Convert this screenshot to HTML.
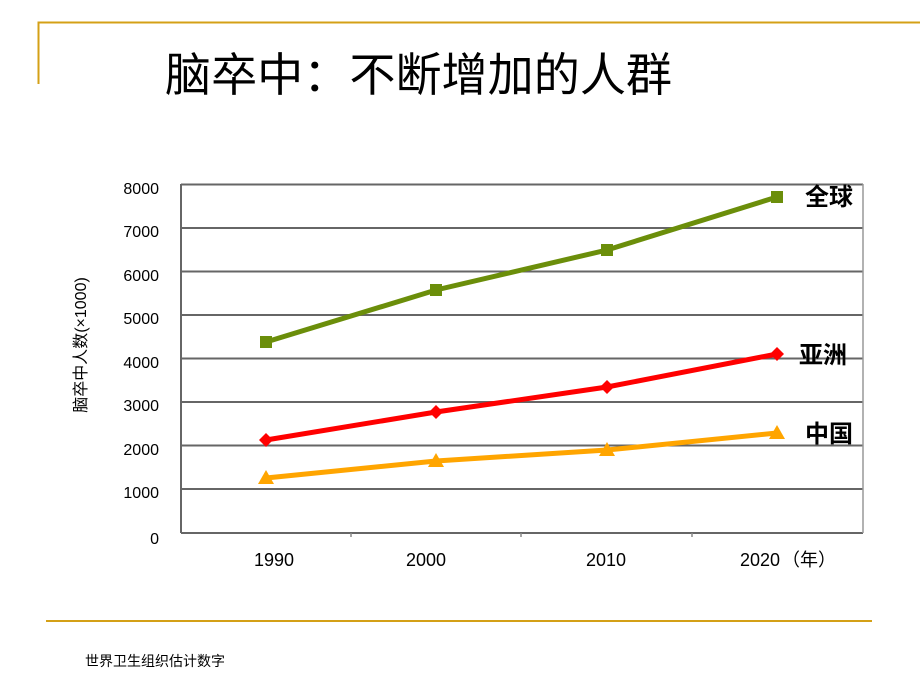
<!DOCTYPE html>
<html><head><meta charset="utf-8"><style>
body{margin:0;background:#fff;}
svg{display:block;}
text{font-family:"Liberation Sans","Noto Sans CJK SC",sans-serif;}
</style></head><body>
<svg width="920" height="690" xmlns="http://www.w3.org/2000/svg">
<path d="M38.5 84 V22.5 H920" fill="none" stroke="#d4a017" stroke-width="2"/>
<line x1="46" y1="621" x2="872" y2="621" stroke="#d4a017" stroke-width="2"/>
<text x="165" y="91" font-size="46" fill="#000" textLength="507" lengthAdjust="spacingAndGlyphs" style="font-family:'Noto Sans CJK SC',sans-serif">脑卒中：不断增加的人群</text>
<g stroke="#666" stroke-width="2">
<line x1="181" y1="184.5" x2="863" y2="184.5"/>
<line x1="181" y1="228" x2="863" y2="228"/>
<line x1="181" y1="271.5" x2="863" y2="271.5"/>
<line x1="181" y1="315" x2="863" y2="315"/>
<line x1="181" y1="358.5" x2="863" y2="358.5"/>
<line x1="181" y1="402" x2="863" y2="402"/>
<line x1="181" y1="445.5" x2="863" y2="445.5"/>
<line x1="181" y1="489" x2="863" y2="489"/>
<line x1="181" y1="533" x2="863" y2="533"/>
<line x1="181" y1="184" x2="181" y2="533"/>
</g>
<line x1="863" y1="184" x2="863" y2="533" stroke="#999" stroke-width="1.5"/>
<g stroke="#888" stroke-width="1.5"><line x1="351" y1="533" x2="351" y2="537"/><line x1="521" y1="533" x2="521" y2="537"/><line x1="692" y1="533" x2="692" y2="537"/></g>
<g font-size="16" text-anchor="end" fill="#000">
<text x="159" y="194">8000</text><text x="159" y="237">7000</text><text x="159" y="281">6000</text><text x="159" y="324">5000</text><text x="159" y="368">4000</text><text x="159" y="411">3000</text><text x="159" y="455">2000</text><text x="159" y="498">1000</text><text x="159" y="544">0</text>
</g>
<g font-size="18" fill="#000" text-anchor="middle">
<text x="274" y="566">1990</text><text x="426" y="566">2000</text><text x="606" y="566">2010</text><text x="760" y="566">2020</text>
</g>
<text x="782" y="566" font-size="18">（年）</text>
<text transform="translate(86,345) rotate(-90)" font-size="16" text-anchor="middle">脑卒中人数(×1000)</text>
<polyline points="266,342 436,290 607,250 777,197" fill="none" stroke="#6b8e0a" stroke-width="5"/>
<g fill="#6b8e0a"><rect x="260" y="336" width="12" height="12"/><rect x="430" y="284" width="12" height="12"/><rect x="601" y="244" width="12" height="12"/><rect x="771" y="191" width="12" height="12"/></g>
<polyline points="266,440 436,412 607,387 777,354" fill="none" stroke="#ff0000" stroke-width="5"/>
<g fill="#ff0000"><path d="M266 433l7 7-7 7-7-7z"/><path d="M436 405l7 7-7 7-7-7z"/><path d="M607 380l7 7-7 7-7-7z"/><path d="M777 347l7 7-7 7-7-7z"/></g>
<polyline points="266,478 436,461 607,450 777,433" fill="none" stroke="#ffa500" stroke-width="5"/>
<g fill="#ffa500"><path d="M266 470l8 14h-16z"/><path d="M436 453l8 14h-16z"/><path d="M607 442l8 14h-16z"/><path d="M777 425l8 14h-16z"/></g>
<g font-size="24" font-weight="bold" fill="#000">
<text x="805" y="205">全球</text><text x="799" y="363">亚洲</text><text x="805" y="442">中国</text>
</g>
<text x="85" y="666" font-size="14">世界卫生组织估计数字</text>
</svg>
</body></html>
